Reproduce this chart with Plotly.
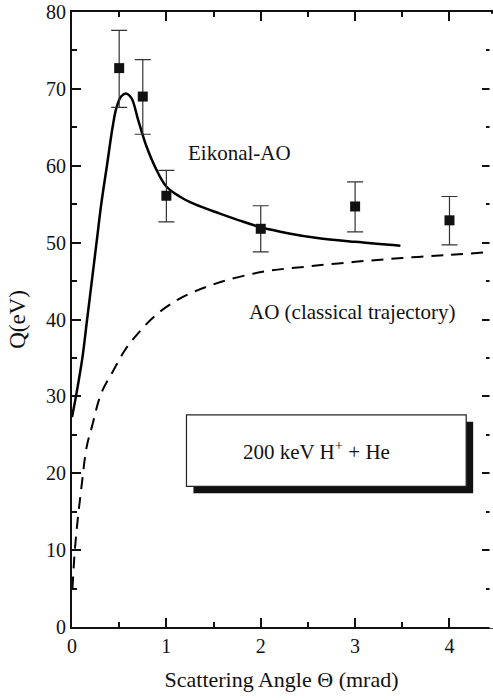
import plotly.graph_objects as go

# Experimental data
exp_x = [0.5, 0.75, 1.0, 2.0, 3.0, 4.0]
exp_y = [72.7, 69.0, 56.1, 51.8, 54.7, 52.9]
exp_err_plus = [4.9, 4.8, 3.3, 3.0, 3.2, 3.1]
exp_err_minus = [5.1, 4.9, 3.4, 3.0, 3.3, 3.2]

# Eikonal-AO theory (solid)
eik_x = [0.0, 0.042, 0.11, 0.16, 0.21, 0.26, 0.31, 0.37, 0.43, 0.47, 0.52, 0.57, 0.63,
         0.70, 0.79, 0.89, 1.0, 1.14, 1.3, 1.56, 1.77, 2.0, 2.3, 2.6, 3.0, 3.48]
eik_y = [27.3, 30.0, 35.0, 40.0, 45.0, 50.0, 55.0, 60.0, 65.0, 67.5, 69.0, 69.4, 68.8,
         66.0, 62.5, 59.6, 57.3, 56.0, 55.0, 53.8, 52.9, 52.0, 51.2, 50.6, 50.1, 49.6]

# AO classical trajectory (dashed)
ao_x = [0.005, 0.03, 0.06, 0.1, 0.155, 0.21, 0.31, 0.44, 0.56, 0.7, 0.9, 1.17, 1.53,
        2.02, 2.5, 3.0, 3.5, 4.0, 4.46]
ao_y = [5.0, 10.0, 13.9, 18.2, 23.4, 26.0, 30.4, 33.4, 36.0, 38.2, 40.7, 42.9, 44.7,
        46.2, 46.9, 47.5, 48.0, 48.4, 48.8]

x_ticks = [0, 1, 2, 3, 4]
y_ticks = [0, 10, 20, 30, 40, 50, 60, 70, 80]

FONT = "Liberation Serif, Times New Roman, serif"
INK = "#111"

fig = go.Figure()
fig.add_trace(go.Scatter(x=ao_x, y=ao_y, mode="lines", line=dict(color="black", width=2, dash="12px,8px"),
                         line_shape="spline", hoverinfo="skip"))
fig.add_trace(go.Scatter(x=eik_x, y=eik_y, mode="lines", line=dict(color="black", width=2.5),
                         line_shape="spline", hoverinfo="skip"))
fig.add_trace(go.Scatter(x=exp_x, y=exp_y, mode="markers",
                         marker=dict(symbol="square", size=10, color=INK),
                         error_y=dict(type="data", symmetric=False, array=exp_err_plus,
                                      arrayminus=exp_err_minus, color="#333", thickness=1.2, width=8)))

# Box with shadow
bx0, bx1, by0, by1 = 1.213, 4.177, 18.3, 27.6
dx, dy = 0.074, -0.91
fig.add_shape(type="rect", x0=bx0 + dx, x1=bx1 + dx, y0=by0 + dy, y1=by1 + dy,
              fillcolor=INK, line=dict(width=0), layer="above")
fig.add_shape(type="rect", x0=bx0, x1=bx1, y0=by0, y1=by1,
              fillcolor="white", line=dict(color="#222", width=1.2), layer="above")
# hide the mirrored right-hand axis line (the reference keeps only its ticks)
fig.add_shape(type="rect", xref="paper", yref="paper", x0=0.9965, x1=1.01, y0=-0.002, y1=0.997,
              fillcolor="white", line=dict(width=0), layer="above")

fig.add_annotation(x=2.595, y=(by0 + by1) / 2, text="200 keV H<sup>+</sup> + He",
                   showarrow=False, font=dict(family=FONT, size=21, color=INK))
fig.add_annotation(x=1.77, y=61.7, text="Eikonal-AO", showarrow=False, xanchor="center",
                   font=dict(family=FONT, size=21, color=INK))
fig.add_annotation(x=2.97, y=41.0, text="AO (classical trajectory)", showarrow=False, xanchor="center",
                   font=dict(family=FONT, size=21, color=INK))

fig.update_layout(
    width=493, height=700,
    margin=dict(l=72, r=0, t=12, b=73),
    paper_bgcolor="white", plot_bgcolor="white",
    showlegend=False,
    font=dict(family=FONT, size=20, color=INK),
    xaxis=dict(range=[0, 4.44], tickvals=x_ticks, ticks="inside", ticklen=9, tickwidth=2,
               tickcolor=INK, showline=True, linecolor=INK, linewidth=2, mirror="ticks",
               showgrid=False, zeroline=False,
               minor=dict(dtick=0.5, ticks="inside", ticklen=5, tickwidth=2, tickcolor=INK),
               title=dict(text="Scattering Angle \u0398 (mrad)", font=dict(size=22), standoff=16),
               tickfont=dict(size=20)),
    yaxis=dict(range=[0, 80], tickvals=y_ticks, ticks="inside", ticklen=9, tickwidth=2,
               tickcolor=INK, showline=True, linecolor=INK, linewidth=2, mirror="ticks",
               showgrid=False, zeroline=False,
               minor=dict(dtick=5, ticks="inside", ticklen=5, tickwidth=2, tickcolor=INK),
               title=dict(text="Q(eV)", font=dict(size=23), standoff=14),
               tickfont=dict(size=20)),
)

fig.write_html("out.html")
